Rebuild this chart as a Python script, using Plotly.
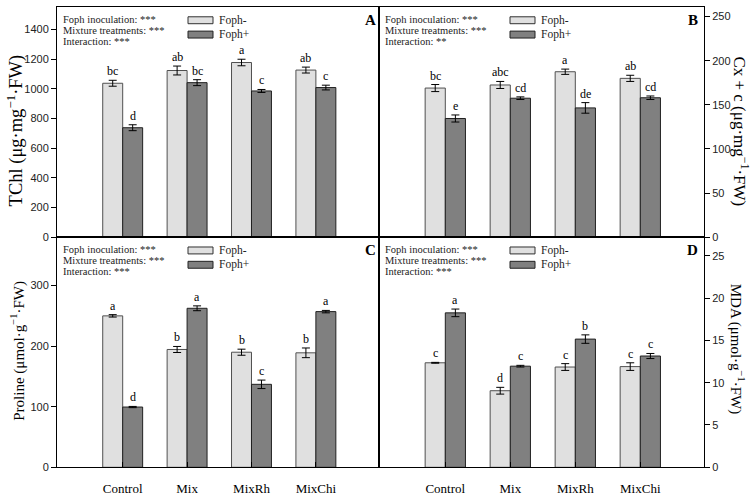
import plotly.graph_objects as go

W, H = 754, 499
categories = ["Control", "Mix", "MixRh", "MixChi"]

# Panel A: TChl
a_minus = [1038, 1124, 1178, 1127]
a_minus_err = [20, 30, 22, 20]
a_plus = [738, 1042, 986, 1009]
a_plus_err = [20, 20, 10, 16]
a_lab_minus = ["bc", "ab", "a", "ab"]
a_lab_plus = ["d", "bc", "c", "c"]

# Panel B: Cx + c
b_minus = [169, 172.5, 187.5, 180]
b_minus_err = [4, 4, 3, 3.5]
b_plus = [134.5, 157.5, 146.5, 158]
b_plus_err = [4, 1.5, 6, 2]
b_lab_minus = ["bc", "abc", "a", "ab"]
b_lab_plus = ["e", "cd", "de", "cd"]

# Panel C: Proline
c_minus = [250, 194.5, 190, 189]
c_minus_err = [2, 5, 5, 8]
c_plus = [99.5, 262.5, 137, 257]
c_plus_err = [1, 4, 7, 2]
c_lab_minus = ["a", "b", "b", "b"]
c_lab_plus = ["d", "a", "c", "a"]

# Panel D: MDA
d_minus = [12.35, 9.05, 11.85, 11.9]
d_minus_err = [0.05, 0.4, 0.4, 0.45]
d_plus = [18.25, 11.95, 15.15, 13.15]
d_plus_err = [0.45, 0.1, 0.5, 0.3]
d_lab_minus = ["c", "d", "c", "c"]
d_lab_plus = ["a", "c", "b", "c"]

stats_A = ["Foph inoculation: ***", "Mixture treatments: ***", "Interaction: ***"]
stats_B = ["Foph inoculation: ***", "Mixture treatments: ***", "Interaction: **"]
stats_C = ["Foph inoculation: ***", "Mixture treatments: ***", "Interaction: ***"]
stats_D = ["Foph inoculation: ***", "Mixture treatments: ***", "Interaction: ***"]

COL_MINUS = "#e0e0e0"
COL_PLUS = "#808080"
SERIF = "Liberation Serif, Times New Roman, serif"
SANS = "Liberation Sans, Arial, sans-serif"

panels = [
    dict(xa="x", ya="y", minus=a_minus, me=a_minus_err, plus=a_plus, pe=a_plus_err,
         lm=a_lab_minus, lp=a_lab_plus, stats=stats_A, letter="A"),
    dict(xa="x2", ya="y2", minus=b_minus, me=b_minus_err, plus=b_plus, pe=b_plus_err,
         lm=b_lab_minus, lp=b_lab_plus, stats=stats_B, letter="B"),
    dict(xa="x3", ya="y3", minus=c_minus, me=c_minus_err, plus=c_plus, pe=c_plus_err,
         lm=c_lab_minus, lp=c_lab_plus, stats=stats_C, letter="C"),
    dict(xa="x4", ya="y4", minus=d_minus, me=d_minus_err, plus=d_plus, pe=d_plus_err,
         lm=d_lab_minus, lp=d_lab_plus, stats=stats_D, letter="D"),
]

fig = go.Figure()
annotations = []
shapes = []

def px(x):
    return x / W

def py(y):
    return 1 - y / H

# panel pixel origins (left, top)
origins = [(57, 7), (379, 7), (57, 240), (379, 240)]
off = 0.155

for p, (ox, oy) in zip(panels, origins):
    fig.add_trace(go.Bar(x=categories, y=p["minus"], name="Foph-", xaxis=p["xa"], yaxis=p["ya"],
                         marker=dict(color=COL_MINUS, line=dict(color="#505050", width=1)),
                         error_y=dict(type="data", array=p["me"], color="black", thickness=1, width=4),
                         showlegend=False, offsetgroup="m", hoverinfo="skip"))
    fig.add_trace(go.Bar(x=categories, y=p["plus"], name="Foph+", xaxis=p["xa"], yaxis=p["ya"],
                         marker=dict(color=COL_PLUS, line=dict(color="#202020", width=1)),
                         error_y=dict(type="data", array=p["pe"], color="black", thickness=1, width=4),
                         showlegend=False, offsetgroup="p", hoverinfo="skip"))
    for i in range(4):
        annotations.append(dict(x=i - off, y=p["minus"][i] + p["me"][i], xref=p["xa"], yref=p["ya"],
                                text=p["lm"][i], showarrow=False, xanchor="center", yanchor="bottom", yshift=0,
                                font=dict(family=SERIF, size=12, color="black")))
        annotations.append(dict(x=i + off, y=p["plus"][i] + p["pe"][i], xref=p["xa"], yref=p["ya"],
                                text=p["lp"][i], showarrow=False, xanchor="center", yanchor="bottom", yshift=0,
                                font=dict(family=SERIF, size=12, color="black")))
    sx = ox + 5
    for k, line in enumerate(p["stats"]):
        annotations.append(dict(x=px(sx), y=py(oy + 12.5 + k * 11.3), xref="paper", yref="paper",
                                text=line, showarrow=False, xanchor="left", yanchor="middle",
                                borderpad=0, font=dict(family=SERIF, size=10.5, color="#222")))
    lx = ox + 131
    for k, (nm, col, lc) in enumerate([("Foph-", COL_MINUS, "#303030"), ("Foph+", COL_PLUS, "#202020")]):
        yc = oy + 13.5 + k * 14.5
        shapes.append(dict(type="rect", xref="paper", yref="paper",
                           x0=px(lx), x1=px(lx + 25), y0=py(yc - 3.5), y1=py(yc + 3.5),
                           fillcolor=col, line=dict(color=lc, width=1)))
        annotations.append(dict(x=px(lx + 30), y=py(yc), xref="paper", yref="paper",
                                text=nm, showarrow=False, xanchor="left", yanchor="middle",
                                borderpad=0, font=dict(family=SERIF, size=11.5, color="#222")))
    annotations.append(dict(x=px(ox + 320), y=py(oy + 13), xref="paper", yref="paper",
                            text="<b>%s</b>" % p["letter"], showarrow=False, xanchor="right",
                            yanchor="middle", borderpad=0, font=dict(family=SERIF, size=15, color="black")))

# axis titles
annotations += [
    dict(x=px(15), y=py(132), xref="paper", yref="paper", text="TChl (μg·mg<sup>−1</sup>·FW)",
         showarrow=False, textangle=-90, xanchor="center", yanchor="middle",
         font=dict(family=SERIF, size=18.5, color="black")),
    dict(x=px(18), y=py(355), xref="paper", yref="paper", text="Proline (μmol·g<sup>−1</sup>·FW)",
         showarrow=False, textangle=-90, xanchor="center", yanchor="middle",
         font=dict(family=SERIF, size=15, color="black")),
    dict(x=px(741), y=py(133), xref="paper", yref="paper", text="Cx + c (μg·mg<sup>−1</sup>·FW)",
         showarrow=False, textangle=90, xanchor="center", yanchor="middle",
         font=dict(family=SERIF, size=17, color="black")),
    dict(x=px(737), y=py(353), xref="paper", yref="paper", text="MDA (μmol·g<sup>−1</sup>·FW)",
         showarrow=False, textangle=90, xanchor="center", yanchor="middle",
         font=dict(family=SERIF, size=15, color="black")),
]

xl = [px(57), px(379)]
xr = [px(379), px(704)]
yt = [py(240), py(7)]
yb = [py(473), py(240)]
xrange = [-1.02, 3.98]

common_x = dict(type="category", range=xrange, showline=True, mirror=True, linecolor="black",
                linewidth=1, showgrid=False, zeroline=False)
common_y = dict(showline=True, mirror=True, linecolor="black", linewidth=1, ticks="outside",
                ticklen=5, tickcolor="black", showgrid=False, zeroline=False,
                tickfont=dict(family=SANS, size=11, color="#222"))
bottom_x = dict(showticklabels=True, ticks="inside", ticklen=5, tickcolor="black",
                ticklabelstandoff=9, tickfont=dict(family=SERIF, size=13, color="black"))

fig.update_layout(
    width=W, height=H, margin=dict(l=0, r=0, t=0, b=0),
    paper_bgcolor="white", plot_bgcolor="white",
    barmode="group", bargap=0.38, bargroupgap=0,
    xaxis=dict(domain=xl, anchor="y", showticklabels=False, ticks="", **common_x),
    xaxis2=dict(domain=xr, anchor="y2", showticklabels=False, ticks="", **common_x),
    xaxis3=dict(domain=xl, anchor="y3", **bottom_x, **common_x),
    xaxis4=dict(domain=xr, anchor="y4", **bottom_x, **common_x),
    yaxis=dict(domain=yt, anchor="x", range=[0, 1553], tickvals=[0, 200, 400, 600, 800, 1000, 1200, 1400], **common_y),
    yaxis2=dict(domain=yt, anchor="x2", side="right", range=[0, 261], tickvals=[0, 50, 100, 150, 200, 250], **common_y),
    yaxis3=dict(domain=yb, anchor="x3", range=[0, 380], tickvals=[0, 100, 200, 300], **common_y),
    yaxis4=dict(domain=yb, anchor="x4", side="right", range=[0, 27.2], tickvals=[0, 5, 10, 15, 20, 25], **common_y),
    annotations=annotations, shapes=shapes, hovermode=False,
)

fig.write_html("out.html", config={"displayModeBar": False},
               post_script="document.body.style.margin='0px';document.body.style.padding='0px';")
